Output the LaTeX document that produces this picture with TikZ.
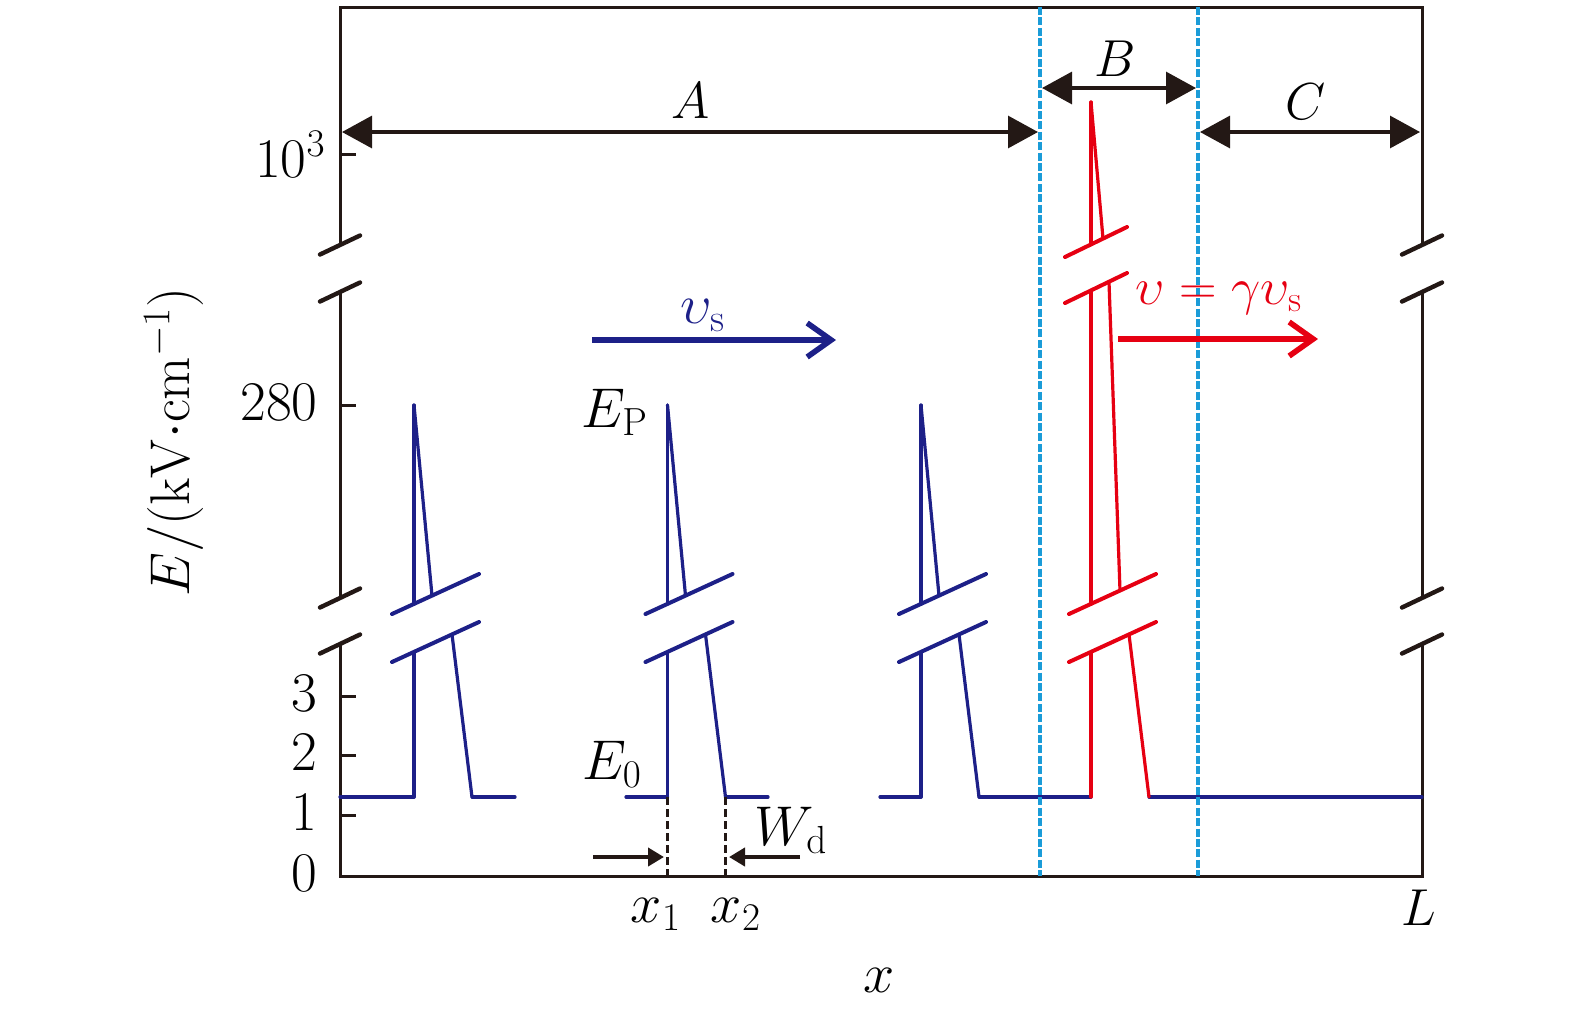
\RequirePackage{fix-cm}
\documentclass[tikz,border=0pt]{standalone}
\usetikzlibrary{arrows.meta}
\definecolor{navy}{HTML}{1D2088}
\definecolor{jred}{HTML}{E60012}
\definecolor{jcyan}{HTML}{1B9CD8}
\definecolor{jblack}{HTML}{231815}
\newcommand{\lowerpart}[1]{%
  \draw[pbrk] ({#1-22},614) -- ({#1+65},574);
  \draw[pbrk] ({#1-22},662) -- ({#1+65},622);
  \draw[pulse] (#1,797) -- (#1,651.9);
  \draw[pulse] ({#1+38},634.4) -- ({#1+58},797);
}
\newcommand{\bluepulse}[1]{%
  \draw[pulse] (#1,405) -- (#1,604);
  \draw[pulse] (#1,405) -- ({#1+18},595.6);
  \lowerpart{#1}
}
\begin{document}
\begin{tikzpicture}[x=0.5pt,y=-0.5pt,
  lbl/.style={font=\fontsize{28}{32}\selectfont, inner sep=0pt},
  lblm/.style={font=\fontsize{26}{30}\selectfont, inner sep=0pt},
  axis/.style={line width=1.5pt, jblack},
  brk/.style={line width=2.2pt, jblack, line cap=round},
  pulse/.style={line width=1.6pt, line cap=round, line join=round},
  pbrk/.style={line width=2pt, line cap=round},
  span/.style={line width=1.6pt, jblack, {Triangle[length=15pt,width=16pt]}-{Triangle[length=15pt,width=16pt]}},
  push/.style={line width=2pt, jblack, -{Triangle[length=8pt,width=9pt]}},
  speed/.style={line width=2.8pt, -{Straight Barb[length=12pt,width=17pt]}},
  region/.style={line width=1.8pt, jcyan, dash pattern=on 4pt off 1.2pt},
  wmark/.style={line width=1.1pt, jblack, dash pattern=on 4pt off 2pt}
]
\useasboundingbox (0,0) rectangle (1575,1014);

% axes frame with breaks
\draw[axis] (340,245) -- (340,7) -- (1422,7) -- (1422,245);
\draw[axis] (340,292) -- (340,598);
\draw[axis] (1422,292) -- (1422,598);
\draw[axis] (340,644) -- (340,876) -- (1422,876) -- (1422,644);
\foreach \x in {340,1422}
  \foreach \y in {245,292,598,644}
    \draw[brk] ({\x-20},{\y+9.5}) -- ({\x+20},{\y-9.5});

% ticks
\foreach \y in {154,405,696,755,815}
  \draw[axis] (340,\y) -- (356,\y);
\node[lbl, anchor=base east] (t3) at (326,177) {$10^3$};
\node[lbl, anchor=base east] (t280) at (318,420) {$280$};
\node[lbl, anchor=base east] (tthree) at (318,711) {$3$};
\node[lbl, anchor=base east] (ttwo) at (318,770) {$2$};
\node[lbl, anchor=base east] (tone) at (318,830) {$1$};
\node[lbl, anchor=base east] (tzero) at (318,891) {$0$};

% axis labels
\node[lbl, rotate=90] (ylab) at (174,442) {$E/(\mathrm{kV}{\cdot}\mathrm{cm}^{-1})$};
\node[lbl] (xlab) at (879,980) {$x$};
\node[lblm, anchor=base] (Llab) at (1419,925) {$L$};
\node[lbl, anchor=base] (x1lab) at (656,922) {$x_1$};
\node[lbl, anchor=base] (x2lab) at (736,922) {$x_2$};

% blue pulses
\begin{scope}[navy]
  \draw[pulse] (340,797) -- (414,797);
  \draw[pulse] (472,797) -- (515,797);
  \draw[pulse] (626,797) -- (667.5,797);
  \draw[pulse] (725.5,797) -- (768,797);
  \draw[pulse] (880,797) -- (921,797);
  \draw[pulse] (979,797) -- (1091,797);
  \draw[pulse] (1149,797) -- (1422,797);
  \bluepulse{414}
  \bluepulse{667.5}
  \bluepulse{921}
\end{scope}

% red pulse
\begin{scope}[jred]
  \draw[pulse] (1091,102) -- (1091,244.4);
  \draw[pulse] (1091,102) -- (1103,238.6);
  \draw[pbrk] (1065,257) -- (1127,227);
  \draw[pbrk] (1065,303) -- (1127,273);
  \draw[pulse] (1091,290.4) -- (1091,604);
  \draw[pulse] (1109,282) -- (1120,590.5);
  \lowerpart{1091}
\end{scope}

% region boundaries
\draw[region] (1040,7) -- (1040,876);
\draw[region] (1198,7) -- (1198,876);

% region spans
\coordinate (aL) at (342,132);
\coordinate (aR) at (1038,132);
\coordinate (bL) at (1042,88);
\coordinate (bR) at (1196,88);
\coordinate (cL) at (1200,132);
\coordinate (cR) at (1420,132);
\draw[span] (aL) -- (aR);
\draw[span] (bL) -- (bR);
\draw[span] (cL) -- (cR);
\node[lblm, anchor=base] (Alab) at (691,118) {$A$};
\node[lblm, anchor=base] (Blab) at (1115,76) {$B$};
\node[lblm, anchor=base] (Clab) at (1306,119) {$C$};

% speeds
\coordinate (vsL) at (592,340);
\coordinate (vsR) at (836,340);
\draw[speed, navy] (vsL) -- (vsR);
\node[lbl, anchor=base, navy] (vslab) at (703,323) {$\upsilon_\mathrm{s}$};
\coordinate (vL) at (1118,339);
\coordinate (vR) at (1318,339);
\draw[speed, jred] (vL) -- (vR);
\node[lblm, anchor=base, jred] (vlab) at (1219,304) {$\upsilon=\gamma\upsilon_\mathrm{s}$};

% field labels
\node[lbl, anchor=base] (EPlab) at (615,427) {$E_\mathrm{P}$};
\node[lbl, anchor=base] (E0lab) at (612,779) {$E_0$};
\node[lbl, anchor=base] (Wdlab) at (791,845) {$W_\mathrm{d}$};

% width markers
\coordinate (x1top) at (667.5,797);
\coordinate (x1bot) at (667.5,876);
\coordinate (x2top) at (725.5,797);
\coordinate (x2bot) at (725.5,876);
\draw[wmark] (x1top) -- (x1bot);
\draw[wmark] (x2top) -- (x2bot);
\coordinate (p1s) at (593,857);
\coordinate (p1e) at (664,857);
\coordinate (p2s) at (800,857);
\coordinate (p2e) at (729,857);
\draw[push] (p1s) -- (p1e);
\draw[push] (p2s) -- (p2e);
\end{tikzpicture}
\end{document}
